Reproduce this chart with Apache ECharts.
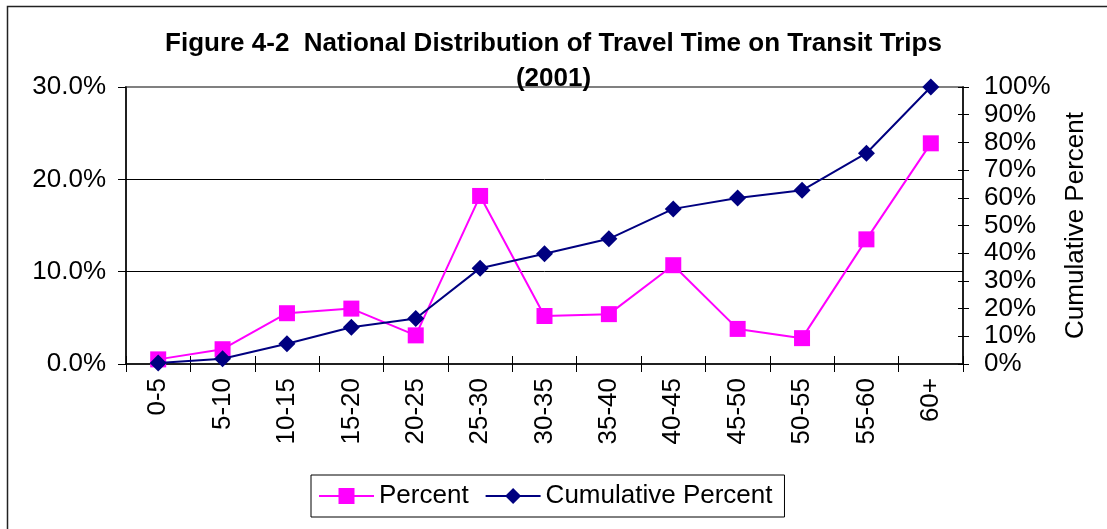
<!DOCTYPE html>
<html>
<head>
<meta charset="utf-8">
<script src="https://cdn.jsdelivr.net/npm/echarts@6/dist/echarts.min.js"></script>
<style>
html,body{margin:0;padding:0;background:#fff;}
#chart{width:1107px;height:529px;}
</style>
</head>
<body>
<div id="chart"></div>
<script>
const titleLines = ['Figure 4-2  National Distribution of Travel Time on Transit Trips', '(2001)'];
const categories = ['0-5','5-10','10-15','15-20','20-25','25-30','30-35','35-40','40-45','45-50','50-55','55-60','60+'];
const percentValues = [0.5, 1.6, 5.5, 6.0, 3.1, 18.2, 5.2, 5.4, 10.7, 3.8, 2.8, 13.5, 23.9];
const cumulativeValues = [0.4, 1.9, 7.3, 13.3, 16.4, 34.6, 39.8, 45.2, 56.0, 59.9, 62.7, 76.1, 100];
const leftTicks = [0, 10, 20, 30];
const rightTicks = [0, 10, 20, 30, 40, 50, 60, 70, 80, 90, 100];

const FONT = '"Liberation Sans", Arial, sans-serif';
const chart = echarts.init(document.getElementById('chart'));
const grid = {left: 126, right: 144, top: 87, bottom: 165, show: true, borderColor: '#808080', borderWidth: 2, backgroundColor: 'transparent'};

chart.setOption({
  animation: false,
  backgroundColor: '#fff',
  graphic: [{
    type: 'rect', shape: {x: 7.5, y: 6.5, width: 1200, height: 600},
    style: {fill: 'none', stroke: '#222', lineWidth: 1.5}, silent: true
  }],
  title: {
    text: titleLines.join('\n'),
    left: 'center',
    top: 26,
    padding: [0, 0, 0, 24],
    textStyle: {fontFamily: FONT, fontWeight: 'bold', fontSize: 26, lineHeight: 35, color: '#000'}
  },
  legend: {
    left: 311, top: 475,
    padding: [8, 12, 8, 7],
    itemGap: 16,
    itemWidth: 55, itemHeight: 20,
    borderColor: '#000', borderWidth: 1,
    textStyle: {fontFamily: FONT, fontSize: 26, color: '#000'},
    data: ['Percent', 'Cumulative Percent']
  },
  grid: grid,
  xAxis: [{
    type: 'category', data: categories, boundaryGap: true,
    axisLine: {lineStyle: {color: '#000', width: 1.5}},
    axisTick: {show: true, interval: 0, length: 8, lineStyle: {color: '#000'}},
    axisLabel: {rotate: 90, interval: 0, margin: 14, fontFamily: FONT, fontSize: 26, color: '#000'}
  }, {
    type: 'category', data: categories, boundaryGap: true, position: 'bottom',
    axisLine: {show: false},
    axisTick: {show: true, inside: true, interval: 0, length: 8, lineStyle: {color: '#000'}},
    axisLabel: {show: false}
  }],
  yAxis: [{
    type: 'value', min: leftTicks[0], max: leftTicks[leftTicks.length - 1], interval: 10,
    position: 'left',
    axisLine: {show: true, lineStyle: {color: '#000', width: 1.5}},
    axisTick: {show: true, length: 8, lineStyle: {color: '#000'}},
    axisLabel: {margin: 20, fontFamily: FONT, fontSize: 26, color: '#000', formatter: v => v.toFixed(1) + '%'},
    splitLine: {show: true, showMinLine: false, showMaxLine: false, lineStyle: {color: '#000', width: 1}}
  }, {
    type: 'value', min: rightTicks[0], max: rightTicks[rightTicks.length - 1], interval: 10,
    position: 'right',
    name: 'Cumulative Percent', nameLocation: 'middle', nameRotate: 90, nameGap: 100,
    nameTextStyle: {fontFamily: FONT, fontSize: 26, color: '#000'},
    axisLine: {show: true, lineStyle: {color: '#000', width: 1.5}},
    axisTick: {show: true, length: 6, lineStyle: {color: '#000'}},
    axisLabel: {margin: 21, fontFamily: FONT, fontSize: 26, color: '#000', formatter: v => v + '%'},
    splitLine: {show: false}
  }, {
    type: 'value', min: rightTicks[0], max: rightTicks[rightTicks.length - 1], interval: 10,
    position: 'right',
    axisLine: {show: false},
    axisTick: {show: true, inside: true, length: 5, lineStyle: {color: '#000'}},
    axisLabel: {show: false},
    splitLine: {show: false}
  }],
  series: [{
    name: 'Percent', type: 'line', yAxisIndex: 0, data: percentValues,
    symbol: 'rect', symbolSize: 16,
    lineStyle: {color: '#ff00ff', width: 2},
    itemStyle: {color: '#ff00ff'},
    z: 3
  }, {
    name: 'Cumulative Percent', type: 'line', yAxisIndex: 1, data: cumulativeValues,
    symbol: 'diamond', symbolSize: 17,
    lineStyle: {color: '#000080', width: 2},
    itemStyle: {color: '#000080'},
    z: 4
  }]
});
</script>
</body>
</html>
